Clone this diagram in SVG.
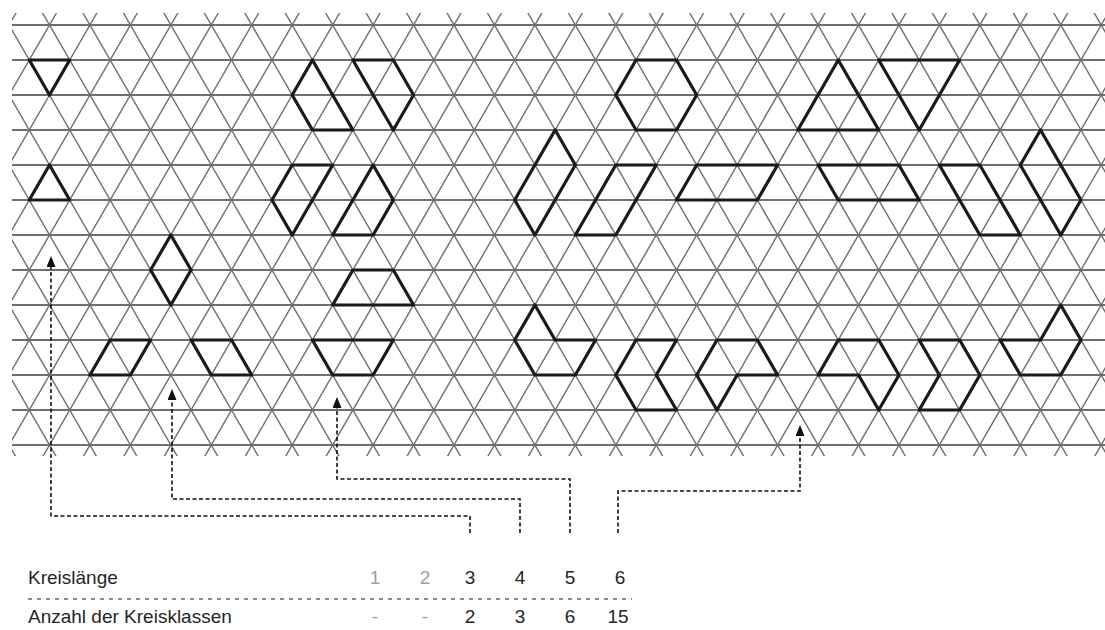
<svg xmlns="http://www.w3.org/2000/svg" width="1105" height="630" viewBox="0 0 1105 630">
<style>
.grid{fill:none;stroke:#6f6f6f;stroke-width:1.4;vector-effect:non-scaling-stroke}
.hl{stroke-width:1.8}
.cyc{fill:none;stroke:#1a1a1a;stroke-width:3.2;stroke-linejoin:round;vector-effect:non-scaling-stroke}
.conn{fill:none;stroke:#111;stroke-width:1.6;stroke-dasharray:4 2.5}
.sep{fill:none;stroke:#666;stroke-width:1.5;stroke-dasharray:4 5}
.lbl{font-family:"Liberation Sans",Arial,sans-serif;font-size:19px;fill:#262626}
.num{text-anchor:middle}
.dim{fill:#a0a0a0}
</style>
<defs>
<clipPath id="clip"><rect x="12" y="13" width="1093" height="443"/></clipPath>
<marker id="arr" markerUnits="userSpaceOnUse" markerWidth="11" markerHeight="9" viewBox="0 0 11 9" refX="0" refY="4.5" orient="auto"><path d="M0 0L11 4.5L0 9z" fill="#111"/></marker>
</defs>
<rect width="1105" height="630" fill="#fff"/>
<g id="grid" clip-path="url(#clip)">
<g transform="matrix(20.225 0 0 35 9.05 25)">
<path class="grid hl" d="M0 0H55M0 1H55M0 2H55M0 3H55M0 4H55M0 5H55M0 6H55M0 7H55M0 8H55M0 9H55M0 10H55M0 11H55M0 12H55"/>
<path class="grid" d="M-12.5 -0.5l13 13m-11-13l13 13m-11-13l13 13m-11-13l13 13m-11-13l13 13m-11-13l13 13m-11-13l13 13m-11-13l13 13m-11-13l13 13m-11-13l13 13m-11-13l13 13m-11-13l13 13m-11-13l13 13m-11-13l13 13m-11-13l13 13m-11-13l13 13m-11-13l13 13m-11-13l13 13m-11-13l13 13m-11-13l13 13m-11-13l13 13m-11-13l13 13m-11-13l13 13m-11-13l13 13m-11-13l13 13m-11-13l13 13m-11-13l13 13m-11-13l13 13m-11-13l13 13m-11-13l13 13m-11-13l13 13m-11-13l13 13m-11-13l13 13m-11-13l13 13m-11-13l13 13m-11-13l13 13"/>
<path class="grid" d="M0.5 -0.5l-13 13m15-13l-13 13m15-13l-13 13m15-13l-13 13m15-13l-13 13m15-13l-13 13m15-13l-13 13m15-13l-13 13m15-13l-13 13m15-13l-13 13m15-13l-13 13m15-13l-13 13m15-13l-13 13m15-13l-13 13m15-13l-13 13m15-13l-13 13m15-13l-13 13m15-13l-13 13m15-13l-13 13m15-13l-13 13m15-13l-13 13m15-13l-13 13m15-13l-13 13m15-13l-13 13m15-13l-13 13m15-13l-13 13m15-13l-13 13m15-13l-13 13m15-13l-13 13m15-13l-13 13m15-13l-13 13m15-13l-13 13m15-13l-13 13m15-13l-13 13m15-13l-13 13m15-13l-13 13"/>
</g>
</g>
<g id="cycles" transform="matrix(20.225 0 0 35 9.05 25)">
<g id="c3a"><polygon class="cyc" points="1,1 3,1 2,2"/></g>
<g id="c3b"><polygon class="cyc" points="2,4 1,5 3,5"/></g>
<g id="c4a"><polygon class="cyc" points="8,6 9,7 8,8 7,7"/></g>
<g id="c4b"><polygon class="cyc" points="5,9 7,9 6,10 4,10"/></g>
<g id="c4c"><polygon class="cyc" points="9,9 11,9 12,10 10,10"/></g>
<g id="c5a"><polygon class="cyc" points="15,1 14,2 15,3 17,3"/></g>
<g id="c5b"><polygon class="cyc" points="17,1 19,1 20,2 19,3"/></g>
<g id="c5c"><polygon class="cyc" points="14,4 16,4 14,6 13,5"/></g>
<g id="c5d"><polygon class="cyc" points="18,4 19,5 18,6 16,6"/></g>
<g id="c5e"><polygon class="cyc" points="17,7 19,7 20,8 16,8"/></g>
<g id="c5f"><polygon class="cyc" points="15,9 19,9 18,10 16,10"/></g>
<g id="c6a"><polygon class="cyc" points="31,1 33,1 34,2 33,3 31,3 30,2"/></g>
<g id="c6b"><polygon class="cyc" points="41,1 39,3 43,3"/></g>
<g id="c6c"><polygon class="cyc" points="43,1 47,1 45,3"/></g>
<g id="c6d"><polygon class="cyc" points="27,3 28,4 26,6 25,5"/></g>
<g id="c6e"><polygon class="cyc" points="30,4 32,4 30,6 28,6"/></g>
<g id="c6f"><polygon class="cyc" points="34,4 38,4 37,5 33,5"/></g>
<g id="c6g"><polygon class="cyc" points="40,4 44,4 45,5 41,5"/></g>
<g id="c6h"><polygon class="cyc" points="46,4 48,4 50,6 48,6"/></g>
<g id="c6i"><polygon class="cyc" points="51,3 53,5 52,6 50,4"/></g>
<g id="c6j"><polygon class="cyc" points="26,8 27,9 29,9 28,10 26,10 25,9"/></g>
<g id="c6k"><polygon class="cyc" points="31,9 33,9 32,10 33,11 31,11 30,10"/></g>
<g id="c6l"><polygon class="cyc" points="35,9 37,9 38,10 36,10 35,11 34,10"/></g>
<g id="c6m"><polygon class="cyc" points="41,9 43,9 44,10 43,11 42,10 40,10"/></g>
<g id="c6n"><polygon class="cyc" points="45,9 47,9 48,10 47,11 45,11 46,10"/></g>
<g id="c6o"><polygon class="cyc" points="52,8 53,9 52,10 50,10 49,9 51,9"/></g>
</g>
<g id="connectors">
<path class="conn" d="M470 533V516H51V267" marker-end="url(#arr)"/>
<path class="conn" d="M520 533V499H172V400" marker-end="url(#arr)"/>
<path class="conn" d="M570 533V479H337V408" marker-end="url(#arr)"/>
<path class="conn" d="M618 533V491H800V436" marker-end="url(#arr)"/>
</g>
<g id="table" class="lbl">
<text x="28" y="584">Kreislänge</text>
<text class="num dim" x="375" y="584">1</text>
<text class="num dim" x="425" y="584">2</text>
<text class="num" x="470" y="584">3</text>
<text class="num" x="520" y="584">4</text>
<text class="num" x="570" y="584">5</text>
<text class="num" x="620" y="584">6</text>
<line class="sep" x1="28" y1="599" x2="632" y2="599"/>
<text x="28" y="623">Anzahl der Kreisklassen</text>
<text class="num dim" x="375" y="623">-</text>
<text class="num dim" x="425" y="623">-</text>
<text class="num" x="470" y="623">2</text>
<text class="num" x="520" y="623">3</text>
<text class="num" x="570" y="623">6</text>
<text class="num" x="618" y="623">15</text>
</g>
</svg>
